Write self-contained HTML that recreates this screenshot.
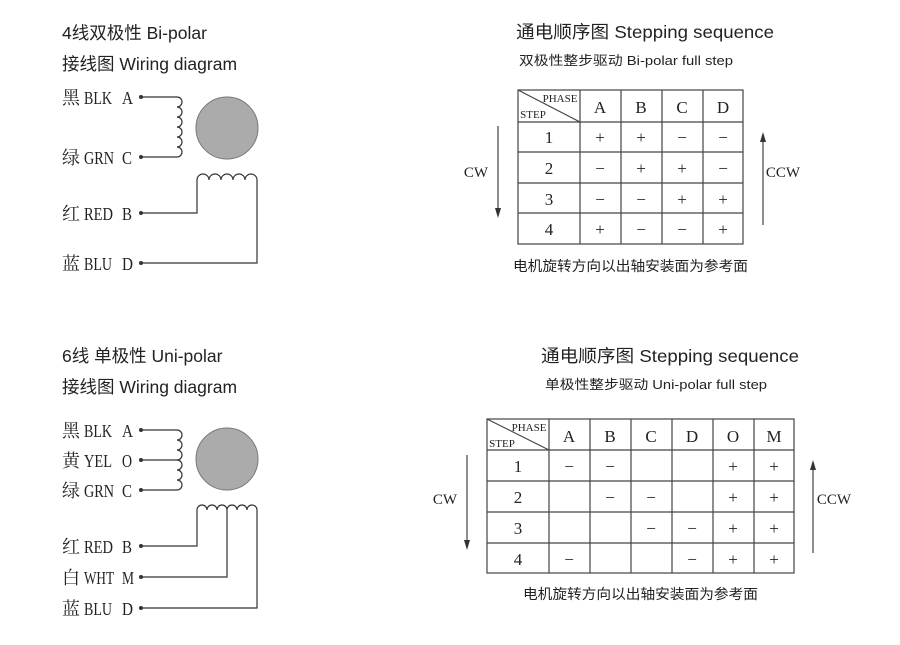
<!DOCTYPE html>
<html><head><meta charset="utf-8"><style>
body{margin:0;background:#fff;}
svg text{fill:#222;}
.s{font-family:"Liberation Sans","Noto Sans CJK SC",sans-serif;}
.r{font-family:"Liberation Serif","Noto Serif CJK SC",serif;}
</style></head><body>
<svg width="900" height="640" viewBox="0 0 900 640" xmlns="http://www.w3.org/2000/svg">
<g class="s" font-size="17.5">
<text x="62" y="39">4线双极性 Bi-polar</text>
<text x="62" y="70">接线图 Wiring diagram</text>
<text x="516" y="38" font-size="17.5" textLength="258" lengthAdjust="spacingAndGlyphs">通电顺序图  Stepping sequence</text>
<text x="519" y="65" font-size="13" textLength="214" lengthAdjust="spacingAndGlyphs">双极性整步驱动  Bi-polar full step</text>
<text x="62" y="362">6线 单极性 Uni-polar</text>
<text x="62" y="393">接线图 Wiring diagram</text>
<text x="541" y="362" font-size="17.5" textLength="258" lengthAdjust="spacingAndGlyphs">通电顺序图  Stepping sequence</text>
<text x="545" y="389" font-size="13" textLength="222" lengthAdjust="spacingAndGlyphs">单极性整步驱动  Uni-polar full step</text>
<text x="513" y="271" font-size="14" textLength="235" lengthAdjust="spacingAndGlyphs">电机旋转方向以出轴安装面为参考面</text>
<text x="523" y="599" font-size="14" textLength="235" lengthAdjust="spacingAndGlyphs">电机旋转方向以出轴安装面为参考面</text>
</g>
<g class="r" font-size="18">
<text x="62" y="104">黑</text><text x="84" y="104" textLength="28" lengthAdjust="spacingAndGlyphs">BLK</text><text x="122" y="104" textLength="11" lengthAdjust="spacingAndGlyphs">A</text>
<text x="62" y="164">绿</text><text x="84" y="164" textLength="30" lengthAdjust="spacingAndGlyphs">GRN</text><text x="122" y="164" textLength="10" lengthAdjust="spacingAndGlyphs">C</text>
<text x="62" y="220">红</text><text x="84" y="220" textLength="29" lengthAdjust="spacingAndGlyphs">RED</text><text x="122" y="220" textLength="10" lengthAdjust="spacingAndGlyphs">B</text>
<text x="62" y="270">蓝</text><text x="84" y="270" textLength="28" lengthAdjust="spacingAndGlyphs">BLU</text><text x="122" y="270" textLength="11" lengthAdjust="spacingAndGlyphs">D</text>
<text x="62" y="437">黑</text><text x="84" y="437" textLength="28" lengthAdjust="spacingAndGlyphs">BLK</text><text x="122" y="437" textLength="11" lengthAdjust="spacingAndGlyphs">A</text>
<text x="62" y="467">黄</text><text x="84" y="467" textLength="28" lengthAdjust="spacingAndGlyphs">YEL</text><text x="122" y="467" textLength="10" lengthAdjust="spacingAndGlyphs">O</text>
<text x="62" y="497">绿</text><text x="84" y="497" textLength="30" lengthAdjust="spacingAndGlyphs">GRN</text><text x="122" y="497" textLength="10" lengthAdjust="spacingAndGlyphs">C</text>
<text x="62" y="553">红</text><text x="84" y="553" textLength="29" lengthAdjust="spacingAndGlyphs">RED</text><text x="122" y="553" textLength="10" lengthAdjust="spacingAndGlyphs">B</text>
<text x="62" y="584">白</text><text x="84" y="584" textLength="30" lengthAdjust="spacingAndGlyphs">WHT</text><text x="122" y="584" textLength="12" lengthAdjust="spacingAndGlyphs">M</text>
<text x="62" y="615">蓝</text><text x="84" y="615" textLength="28" lengthAdjust="spacingAndGlyphs">BLU</text><text x="122" y="615" textLength="11" lengthAdjust="spacingAndGlyphs">D</text>
</g>
<g fill="none" stroke="#333" stroke-width="1.2">
<path d="M141 97 H177 a5 5 0 0 1 0 10 a5 5 0 0 1 0 10 a5 5 0 0 1 0 10 a5 5 0 0 1 0 10 a5 5 0 0 1 0 10 a5 5 0 0 1 0 10 H141"/>
<path d="M141 213 H197 V180 a6 6 0 0 1 12 0 a6 6 0 0 1 12 0 a6 6 0 0 1 12 0 a6 6 0 0 1 12 0 a6 6 0 0 1 12 0 V263 H141"/>
<path d="M141 430 H177 a5 5 0 0 1 0 10 a5 5 0 0 1 0 10 a5 5 0 0 1 0 10 a5 5 0 0 1 0 10 a5 5 0 0 1 0 10 a5 5 0 0 1 0 10 H141"/>
<path d="M141 460 H178"/>
<path d="M141 546 H197 V510 a5 5 0 0 1 10 0 a5 5 0 0 1 10 0 a5 5 0 0 1 10 0 a5 5 0 0 1 10 0 a5 5 0 0 1 10 0 a5 5 0 0 1 10 0 V608 H141"/>
<path d="M141 577 H227 V510"/>
</g>
<g fill="#333">
<circle cx="141" cy="97" r="2"/><circle cx="141" cy="157" r="2"/><circle cx="141" cy="213" r="2"/><circle cx="141" cy="263" r="2"/>
<circle cx="141" cy="430" r="2"/><circle cx="141" cy="460" r="2"/><circle cx="141" cy="490" r="2"/><circle cx="141" cy="546" r="2"/><circle cx="141" cy="577" r="2"/><circle cx="141" cy="608" r="2"/>
</g>
<circle cx="227" cy="128" r="31" fill="#ababab" stroke="#777"/>
<circle cx="227" cy="459" r="31" fill="#ababab" stroke="#777"/>
<g fill="none" stroke="#444" stroke-width="1.2">
<rect x="518" y="90" width="225" height="154"/>
<path d="M518 122H743M518 152H743M518 183H743M518 213H743M580 90V244M621 90V244M662 90V244M703 90V244M518 90L580 122"/>
<rect x="487" y="419" width="307" height="154"/>
<path d="M487 450H794M487 481H794M487 512H794M487 543H794M549 419V573M590 419V573M631 419V573M672 419V573M713 419V573M754 419V573M487 419L549 450"/>
<path d="M498 126V210M763 140V225M467 455V542M813 468V553"/>
</g>
<g fill="#333">
<path d="M495 208L498 218L501 208Z M760 142L763 132L766 142Z M464 540L467 550L470 540Z M810 470L813 460L816 470Z"/>
</g>
<g class="r" font-size="17" text-anchor="middle">
<text x="560" y="102" font-size="11">PHASE</text><text x="533" y="118" font-size="11">STEP</text>
<text x="600" y="113">A</text><text x="641" y="113">B</text><text x="682" y="113">C</text><text x="723" y="113">D</text>
<text x="549" y="143">1</text><text x="549" y="174">2</text><text x="549" y="205">3</text><text x="549" y="235">4</text>
<text x="600" y="143">+</text><text x="641" y="143">+</text><text x="682" y="143">−</text><text x="723" y="143">−</text>
<text x="600" y="174">−</text><text x="641" y="174">+</text><text x="682" y="174">+</text><text x="723" y="174">−</text>
<text x="600" y="205">−</text><text x="641" y="205">−</text><text x="682" y="205">+</text><text x="723" y="205">+</text>
<text x="600" y="235">+</text><text x="641" y="235">−</text><text x="682" y="235">−</text><text x="723" y="235">+</text>
<text x="476" y="177" font-size="15">CW</text><text x="783" y="177" font-size="15">CCW</text>
<text x="529" y="431" font-size="11">PHASE</text><text x="502" y="447" font-size="11">STEP</text>
<text x="569" y="442">A</text><text x="610" y="442">B</text><text x="651" y="442">C</text><text x="692" y="442">D</text><text x="733" y="442">O</text><text x="774" y="442">M</text>
<text x="518" y="472">1</text><text x="518" y="503">2</text><text x="518" y="534">3</text><text x="518" y="565">4</text>
<text x="569" y="472">−</text><text x="610" y="472">−</text><text x="733" y="472">+</text><text x="774" y="472">+</text>
<text x="610" y="503">−</text><text x="651" y="503">−</text><text x="733" y="503">+</text><text x="774" y="503">+</text>
<text x="651" y="534">−</text><text x="692" y="534">−</text><text x="733" y="534">+</text><text x="774" y="534">+</text>
<text x="569" y="565">−</text><text x="692" y="565">−</text><text x="733" y="565">+</text><text x="774" y="565">+</text>
<text x="445" y="504" font-size="15">CW</text><text x="834" y="504" font-size="15">CCW</text>
</g>
</svg>
</body></html>
